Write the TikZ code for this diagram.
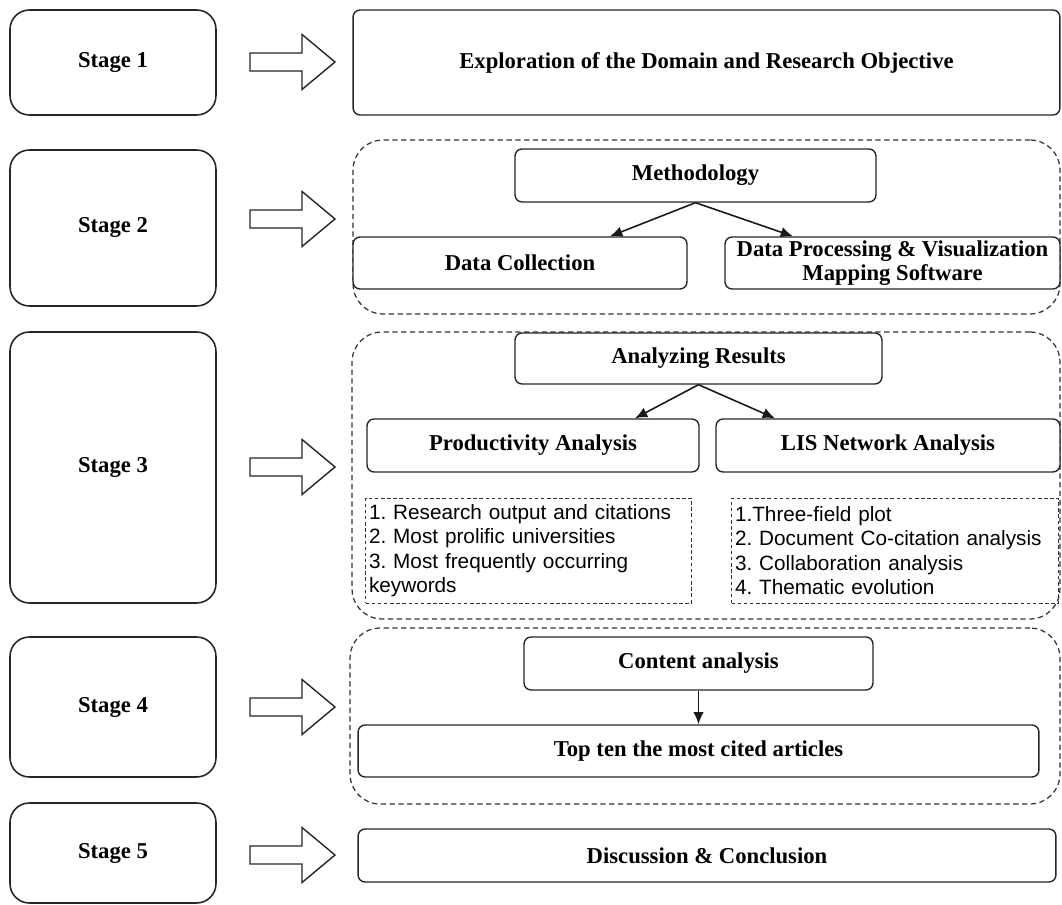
\documentclass[tikz,border=0pt]{standalone}
\usepackage{fontspec}
\setmainfont{Liberation Serif}
\setsansfont{Liberation Sans}
\usetikzlibrary{arrows,arrows.meta,shapes}
\usetikzlibrary{calc}
\frenchspacing
\newcommand{\titlefont}{\fontsize{12.9}{13.5}\selectfont\bfseries}
\newcommand{\listfont}{\sffamily\fontsize{11.8}{13.9}\selectfont}
\tikzstyle{stagebox}=[draw=black!85,line width=0.9pt,rounded corners=11pt,minimum width=4.12cm,inner sep=0pt,font=\titlefont]
\tikzstyle{titlebox}=[draw=black!85,fill=white,line width=0.8pt,rounded corners=4pt,inner sep=0pt,align=center,font=\titlefont]
\tikzstyle{groupbox}=[draw=black!80,line width=0.7pt,dash pattern=on 3pt off 2pt,rounded corners=17pt,inner sep=0pt]
\tikzstyle{listbox}=[draw=black!80,line width=0.5pt,dash pattern=on 2pt off 1.5pt,inner sep=2pt,align=left,minimum height=2.1cm,font=\listfont]
\tikzstyle{bigarrow}=[draw=black!85,fill=white,line width=0.8pt]
\tikzstyle{link}=[-{Latex[length=7pt,width=6pt]},line width=0.9pt,black!90]

\begin{document}
\begin{tikzpicture}[x=0.02cm,y=-0.02cm]

  \useasboundingbox[fill=white] (0,0) rectangle (1062,905);

% stages on the left
    \foreach \n/\y/\h in {1/62.5/2.1, 2/228/3.12, 3/467.5/5.42, 4/707/2.8, 5/853/2.0}
        \node[stagebox,minimum height=\h cm] (stage\n) at (113,\y) {Stage \n};

    \foreach \y in {62,219,467,707,855}
        \draw[bigarrow] (250,\y-9) -- (302,\y-9) -- (302,\y-27.5) -- (335,\y) -- (302,\y+27.5) -- (302,\y+9) -- (250,\y+9) -- cycle;

% dashed groups
\node[groupbox,minimum width=14.14cm,minimum height=3.48cm] (group2) at (706.5,227) {};
\node[groupbox,minimum width=14.16cm,minimum height=5.74cm] (group3) at (706,475.5) {};
\node[groupbox,minimum width=14.2cm,minimum height=3.52cm] (group4) at (705,716) {};

% stage 1
\node[titlebox,minimum width=14.14cm,minimum height=2.1cm] (explore) at (706.5,62.5) {Exploration of the Domain and Research Objective};

% stage 2
\node[titlebox,minimum width=7.22cm,minimum height=1.06cm] (method) at (695.5,175.5) {Methodology};
\node[titlebox,minimum width=6.68cm,minimum height=1.04cm] (collect) at (520,263) {Data Collection};
\node[titlebox,minimum width=6.7cm,minimum height=1.04cm] (process) at (892.5,263) {Data Processing \& Visualization\\Mapping Software};

\draw[link] (method.south) -- ($(collect.north)+(90,0)$);
\draw[link] (method.south) -- ($(process.north)+(-99.5,0)$);

% stage 3
\node[titlebox,minimum width=7.34cm,minimum height=1.02cm] (results) at (698.5,358.5) {Analyzing Results};
\node[titlebox,minimum width=6.64cm,minimum height=1.06cm] (product) at (533,445.5) {Productivity Analysis};
\node[titlebox,minimum width=6.88cm,minimum height=1.06cm] (network) at (888,445.5) {LIS Network Analysis};

\draw[link] (results.south) -- ($(product.north)+(102,0)$);
\draw[link] (results.south) -- ($(network.north)+(-113,0)$);

\node[listbox,text width=6.38cm] (prodlist) at (528.5,550.5) {1. Research output and citations\\2. Most prolific universities\\3. Most frequently occurring\\keywords};
\node[listbox,text width=6.4cm] (netlist) at (895,550.5) {1.Three-field plot\\2. Document Co-citation analysis\\3. Collaboration analysis\\4. Thematic evolution};

% stage 4
\node[titlebox,minimum width=6.98cm,minimum height=1.06cm] (content) at (698.5,663.5) {Content analysis};
\node[titlebox,minimum width=13.62cm,minimum height=1.04cm] (topten) at (698.5,751) {Top ten the most cited articles};

\draw[link] (content) -- (topten);

% stage 5
\node[titlebox,minimum width=13.96cm,minimum height=1.06cm] (discuss) at (707,855.5) {Discussion \& Conclusion};

\end{tikzpicture}
\end{document}
